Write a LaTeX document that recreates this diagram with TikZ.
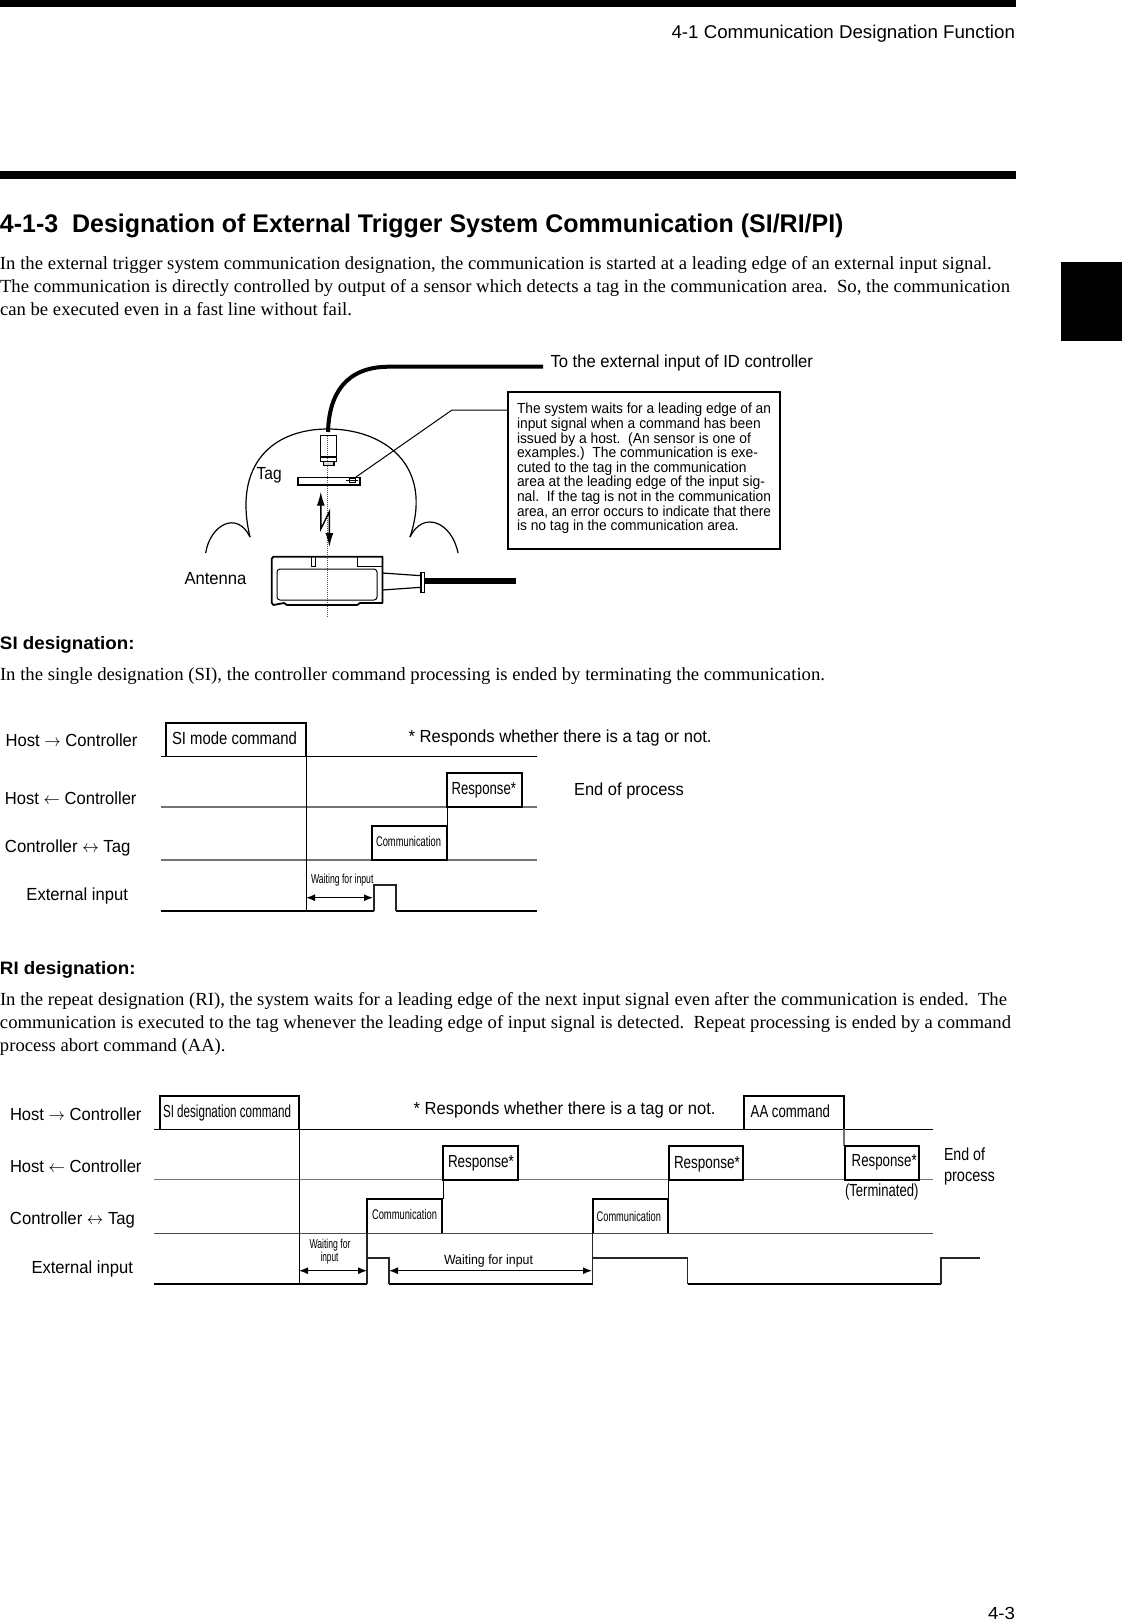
\documentclass[tikz,border=0pt]{standalone}
\usepackage{graphicx}
\usepackage{fontspec}
\setmainfont{Liberation Serif}
\setsansfont{Liberation Sans}
\usetikzlibrary{arrows.meta}
\newcommand\fitw[2]{\resizebox{#1pt}{\height}{#2}}
\newcommand\T[6]{\node[txt,#1] (#2) at (#3,#4) {\fitw{#5}{#6}};}
\tikzset{
  txt/.style={anchor=mid west,inner sep=0pt,outer sep=0pt,yshift=-3.5pt},
  body/.style={font=\rmfamily\fontsize{18.5}{20}\selectfont,yshift=-1pt},
  headb/.style={font=\sffamily\bfseries\fontsize{18}{20}\selectfont},
  titleb/.style={font=\sffamily\bfseries\fontsize{25.5}{26}\selectfont,yshift=-2.5pt},
  lab/.style={font=\sffamily\fontsize{17.5}{20}\selectfont},
  boxt/.style={font=\sffamily\fontsize{17.5}{20}\selectfont},
  commt/.style={font=\sffamily\fontsize{14}{16}\selectfont},
  waitt/.style={font=\sffamily\fontsize{13}{14}\selectfont},
  notet/.style={font=\sffamily\fontsize{14.6}{15}\selectfont},
  sig/.style={line width=1pt,black},
  grayl/.style={line width=1.5pt,black!55},
  base/.style={line width=2.2pt,black},
  pulse/.style={line width=1.4pt,black!85},
  bx/.style={line width=2pt,black,line join=miter},
  dim/.style={line width=1.2pt,{Latex[length=9pt,width=7pt]}-{Latex[length=9pt,width=7pt]}},
}
\begin{document}
\begin{tikzpicture}[x=1pt,y=-1pt]
\useasboundingbox (0,0) rectangle (1122,1623);
\fill[white] (0,0) rectangle (1122,1623);
% page furniture
\fill[black] (0,0) rectangle (1016,7);
\fill[black] (0,171) rectangle (1016,179);
\fill[black] (1061,262) rectangle (1122,341);
\T{lab,font=\sffamily\fontsize{18.5}{20}\selectfont}{hdr}{671.5}{33}{343.5}{4-1 Communication Designation Function}
\T{lab}{foot}{988}{1614}{27}{4-3}
\T{titleb}{title}{0}{224}{843.5}{4-1-3\ \ Designation of External Trigger System Communication (SI/RI/PI)}
\T{body}{p1}{0}{263}{991.5}{In the external trigger system communication designation, the communication is started at a leading edge of an external input signal.}
\T{body}{p2}{0}{285.6}{1010}{The communication is directly controlled by output of a sensor which detects a tag in the communication area.\ \ So, the communication}
\T{body}{p3}{0}{308.4}{352}{can be executed even in a fast line without fail.}
\T{headb}{sih}{0}{643.7}{134.5}{SI designation:}
\T{body}{sip}{0}{673.8}{825}{In the single designation (SI), the controller command processing is ended by terminating the communication.}
\T{headb}{rih}{0}{968.7}{135.6}{RI designation:}
\T{body}{rp1}{0}{998.8}{1007}{In the repeat designation (RI), the system waits for a leading edge of the next input signal even after the communication is ended.\ \ The}
\T{body}{rp2}{0}{1021.5}{1011}{communication is executed to the tag whenever the leading edge of input signal is detected.\ \ Repeat processing is ended by a command}
\T{body}{rp3}{0}{1044.3}{225.6}{process abort command (AA).}
% sensor figure
\draw[line width=4pt,line cap=butt] (328,432) .. controls (329,395) and (345,366.7) .. (389,366.7) -- (543,366.7);
\T{lab}{toext}{550.5}{361.7}{262.5}{To the external input of ID controller}
\draw[line width=1.2pt] (250,537) .. controls (233,465) and (272,429) .. (328,429) .. controls (384,429) and (434,465) .. (410,537);
\draw[line width=1.2pt] (205.7,553) .. controls (210,525) and (237,510) .. (250,537);
\draw[line width=1.2pt] (410,537) .. controls (423,510) and (452,522) .. (458,553);
\draw[line width=1pt,densely dotted,black!70] (327.8,436) -- (327.8,617);
\draw[line width=1.4pt] (320.4,435.7) rectangle (336.7,461.7);
\draw[line width=2pt] (320.4,456.7) -- (336.7,456.7);
\draw[line width=1.4pt,fill=black!15] (323.5,461.7) rectangle (334,465.7);
\node[draw,line width=1.4pt,outer sep=0pt,minimum width=62pt,minimum height=8.4pt,inner sep=0pt,anchor=north west] (tag) at (298,477.3) {};
\fill[black] (298,483.5) rectangle (360,486);
\draw[line width=.8pt] (346,480) -- (358,480) (349,478.5) rectangle (355,482);
\coordinate (upT) at (320.8,491.7);
\coordinate (zA) at (320.8,529);
\coordinate (zB) at (329.4,511.7);
\coordinate (dnT) at (329.4,547);
\draw[line width=1.4pt,{Latex[length=14pt,width=8pt]}-{Latex[length=14pt,width=8pt]}] (upT) -- (zA) -- (zB) -- (dnT);
\T{lab}{tagl}{256.7}{474}{25}{Tag}
\T{lab}{antl}{184.5}{578.7}{62}{Antenna}
% antenna body
\draw[line width=1.8pt,line join=round] (271.8,558.5) -- (273.5,556.7) -- (382.4,556.7) -- (382.4,603) -- (360,603) -- (357,605) -- (287,605) -- (284,603) -- (273.5,605) -- (271.8,603) -- cycle;
\draw[line width=1pt,rounded corners=3pt] (277,569) rectangle (377,600);
\draw[line width=.9pt] (311.8,556.7) -- (311.8,566.7) -- (315,566.7) -- (315,556.7);
\draw[line width=.9pt] (357,556.7) -- (357,566) -- (382.4,566);
\draw[line width=1.2pt] (382.4,573) -- (421,575.7) (382.4,590) -- (421,587.3);
\draw[line width=1.4pt,fill=white] (421,572.7) rectangle (424.5,592.3);
\fill[black] (424.5,578.3) rectangle (516,584.3);
% note
\node[draw,line width=2pt,outer sep=0pt,minimum width=272pt,minimum height=157.3pt,inner sep=0pt,anchor=north west] (note) at (507.6,391.7) {};
\coordinate (bend) at (452,410);
\coordinate (noteL) at (note.west |- bend);
\coordinate (tagEnd) at (356,477);
\draw[line width=1pt] (noteL) -- (bend) -- (tagEnd);
\T{notet}{n1}{517}{408}{254}{The system waits for a leading edge of an}
\T{notet}{n2}{517}{422.6}{243.8}{input signal when a command has been}
\T{notet}{n3}{517}{437.2}{234}{issued by a host.\ \ (An sensor is one of}
\T{notet}{n4}{517}{451.8}{241}{examples.)\ \ The communication is exe-}
\T{notet}{n5}{517}{466.4}{229.5}{cuted to the tag in the communication}
\T{notet}{n6}{517}{481}{248}{area at the leading edge of the input sig-}
\T{notet}{n7}{517}{495.6}{254}{nal.\ \ If the tag is not in the communication}
\T{notet}{n8}{517}{510.2}{254}{area, an error occurs to indicate that there}
\T{notet}{n9}{517}{524.8}{221.8}{is no tag in the communication area.}
% SI timing
\T{lab}{a1}{5.5}{740.7}{132}{Host $\rightarrow$ Controller}
\T{lab}{a2}{5}{799}{131.5}{Host $\leftarrow$ Controller}
\T{lab}{a3}{5}{846.7}{125.5}{Controller $\leftrightarrow$ Tag}
\T{lab}{a4}{26.5}{895}{101.5}{External input}
\draw[sig] (161,756.3) -- (537,756.3);
\draw[grayl] (161,807) -- (537,807);
\draw[grayl] (161,860) -- (537,860);
\draw[base] (161,911) -- (374,911);
\draw[base] (396,911) -- (537,911);
\draw[sig] (306,756) -- (306,911);
\draw[pulse] (374,911) -- (374,885) -- (396,885) -- (396,911);
\draw[sig] (447,807) -- (447,826);
\draw[bx] (166,756.3) -- (166,722.7) -- (306,722.7) -- (306,756.3);
\draw[bx] (447,807) -- (447,772.7) -- (521.6,772.7) -- (521.6,807) -- cycle;
\draw[bx] (372,860) -- (372,826) -- (447,826) -- (447,860) -- cycle;
\T{boxt}{a5}{172}{739}{125}{SI mode command}
\T{boxt}{a6}{451.5}{789}{64.5}{Response*}
\T{commt}{a7}{376}{841}{65}{Communication}
\T{waitt}{a8}{311}{878}{62.5}{Waiting for input}
\T{lab}{a9}{408.6}{737}{303}{* Responds whether there is a tag or not.}
\T{lab}{a10}{574}{790}{110}{End of process}
\coordinate (w1a) at (306,897.7);
\coordinate (w1b) at (373,897.7);
\draw[dim] (w1a) -- (w1b);
% RI timing
\T{lab}{b1}{10}{1115}{131.5}{Host $\rightarrow$ Controller}
\T{lab}{b2}{10}{1166.7}{131.5}{Host $\leftarrow$ Controller}
\T{lab}{b3}{10}{1219}{125}{Controller $\leftrightarrow$ Tag}
\T{lab}{b4}{31.5}{1267.7}{101.5}{External input}
\draw[sig] (154,1129.3) -- (933,1129.3);
\draw[grayl] (154,1179.7) -- (933,1179.7);
\draw[sig,black!70] (154,1233) -- (933,1233);
\draw[base] (154,1283.7) -- (367,1283.7);
\draw[base] (389,1283.7) -- (592.7,1283.7);
\draw[base] (687.7,1283.7) -- (941,1283.7);
\draw[sig] (299,1129) -- (299,1283.7);
\draw[pulse] (367,1283.7) -- (367,1233);
\draw[pulse] (367,1258) -- (389,1258) -- (389,1283.7);
\draw[pulse] (592.7,1283.7) -- (592.7,1233);
\draw[pulse] (592.7,1258) -- (687.7,1258) -- (687.7,1283.7);
\draw[pulse] (941,1283.7) -- (941,1258) -- (980,1258);
\draw[sig] (443,1180) -- (443,1199);
\draw[sig] (668,1180) -- (668,1199);
\draw[grayl] (844,1129.3) -- (844,1145.7);
\draw[bx] (160,1129.3) -- (160,1095.7) -- (299,1095.7) -- (299,1129.3);
\draw[bx] (744,1129.3) -- (744,1095.7) -- (844,1095.7) -- (844,1129.3);
\draw[bx] (443,1179.7) -- (443,1145.7) -- (518,1145.7) -- (518,1179.7) -- cycle;
\draw[bx] (669,1179.7) -- (669,1145.7) -- (743,1145.7) -- (743,1179.7) -- cycle;
\draw[bx] (845,1179.7) -- (845,1145.7) -- (919,1145.7) -- (919,1179.7) -- cycle;
\draw[bx] (367,1233) -- (367,1199) -- (442,1199) -- (442,1233);
\draw[bx] (592.7,1233) -- (592.7,1199) -- (667.7,1199) -- (667.7,1233);
\T{boxt}{b5}{163}{1111.7}{128}{SI designation command}
\T{boxt}{b6}{448}{1162}{66}{Response*}
\T{boxt}{b7}{674}{1162.7}{66}{Response*}
\T{boxt}{b8}{851.7}{1161}{65}{Response*}
\T{boxt}{b9}{750.7}{1111.7}{79.3}{AA command}
\T{commt}{b10}{372}{1213.5}{65}{Communication}
\T{commt}{b11}{596.7}{1215.2}{64.3}{Communication}
\T{boxt}{b12}{845}{1191}{73.5}{(Terminated)}
\T{lab}{b13}{944}{1155}{41}{End of}
\T{lab}{b14}{944}{1175.7}{51}{process}
\T{lab}{b15}{413.6}{1108.5}{302}{* Responds whether there is a tag or not.}
\T{waitt}{b16}{309.5}{1243}{41}{Waiting for}
\T{waitt}{b17}{320.5}{1256}{18}{input}
\T{lab,font=\sffamily\fontsize{13.5}{15}\selectfont}{b18}{444}{1259}{89}{Waiting for input}
\coordinate (w2a) at (299,1270.7);
\coordinate (w2b) at (367,1270.7);
\coordinate (w3a) at (389,1270.7);
\coordinate (w3b) at (592,1270.7);
\draw[dim] (w2a) -- (w2b);
\draw[dim] (w3a) -- (w3b);
\end{tikzpicture}
\end{document}
